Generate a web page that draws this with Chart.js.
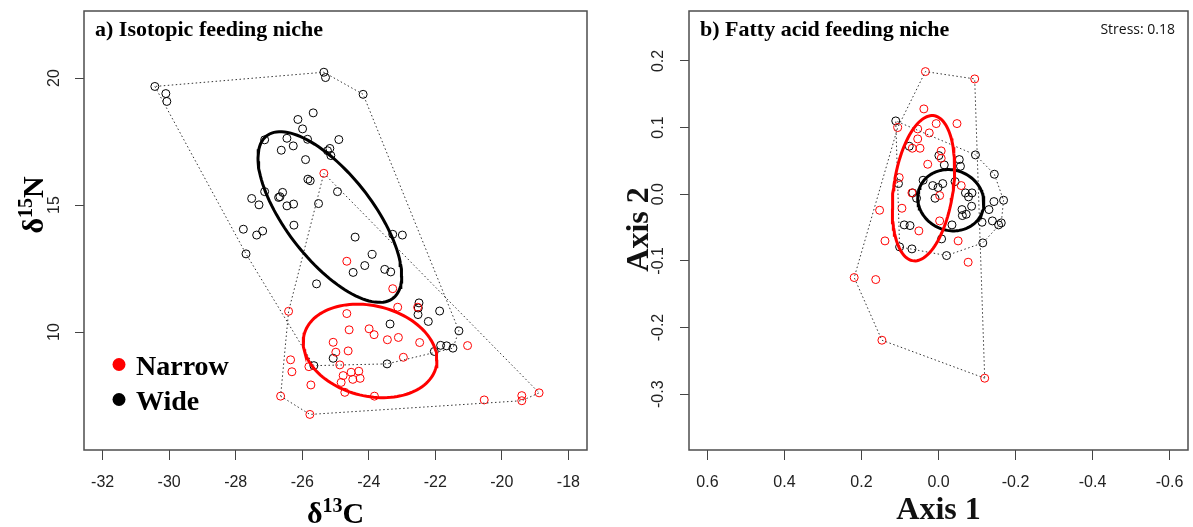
<!DOCTYPE html>
<html>
<head>
<meta charset="utf-8">
<script src="https://cdn.jsdelivr.net/npm/chart.js"></script>
<style>
	html, body { margin: 0; padding: 0; background: #fff; }
	#wrap { position: relative; width: 1193px; height: 527px; overflow: hidden; }
	canvas { position: absolute; top: 0; }
</style>
</head>
<body>
<div id="wrap">
	<canvas id="iso" width="596" height="527" style="left:0"></canvas>
	<canvas id="fa" width="597" height="527" style="left:596px"></canvas>
</div>
<script>
// ---- a) isotopes : d13C (x) / d15N (y) ----
const isoNarrowX = [-25.35, -24.66, -23.28, -26.41, -24.66, -23.13, -22.53, -24.59, -23.99, -23.84, -23.44, -23.11, -22.47, -21.03, -25.07, -24.99, -24.62, -26.35, -26.31, -25.80, -24.87, -22.96, -24.77, -24.53, -24.30, -24.48, -24.26, -24.83, -25.74, -24.72, -23.83, -26.65, -25.77, -20.53, -19.40, -19.40, -18.88];
const isoNarrowY = [16.25, 12.79, 11.71, 10.82, 10.73, 10.98, 10.98, 10.09, 10.13, 9.90, 9.70, 9.79, 9.59, 9.47, 9.60, 9.21, 9.26, 8.91, 8.44, 8.64, 8.71, 9.01, 8.29, 8.42, 8.46, 8.14, 8.18, 8.02, 7.92, 7.63, 7.48, 7.48, 6.76, 7.33, 7.50, 7.30, 7.61];
const isoWideX = [-30.43, -30.10, -30.07, -25.35, -25.30, -24.17, -25.67, -26.13, -25.99, -25.84, -24.90, -27.13, -26.46, -26.27, -26.63, -25.17, -25.24, -25.14, -25.90, -25.83, -25.76, -24.94, -27.13, -26.59, -26.67, -26.71, -27.52, -27.30, -26.46, -26.26, -25.51, -26.25, -27.77, -27.19, -27.37, -27.69, -24.41, -23.28, -22.99, -23.90, -24.12, -24.47, -23.52, -23.34, -25.57, -22.49, -22.51, -22.52, -21.87, -22.21, -23.36, -21.29, -25.07, -25.65, -23.45, -22.03, -21.84, -21.66, -21.47];
const isoWideY = [19.67, 19.39, 19.08, 20.23, 20.02, 19.36, 18.63, 18.37, 18.00, 17.59, 17.58, 17.57, 17.63, 17.33, 17.16, 17.23, 17.14, 16.95, 16.79, 16.02, 15.96, 15.53, 15.53, 15.50, 15.33, 15.30, 15.26, 15.01, 14.97, 15.04, 15.06, 14.21, 14.05, 13.98, 13.82, 13.08, 13.74, 13.85, 13.82, 13.06, 12.62, 12.35, 12.47, 12.37, 11.90, 11.15, 10.95, 10.69, 10.83, 10.42, 10.32, 10.05, 8.97, 8.68, 8.75, 9.24, 9.48, 9.46, 9.37];
// standard ellipses: [centre x, centre y, sd x, sd y, correlation]
const isoNarrowEllipse = [-23.96, 9.26, 2.01, 1.84, -0.19];
const isoWideEllipse = [-25.17, 14.53, 2.16, 3.36, -0.69];
const isoXTicks = [-32, -30, -28, -26, -24, -22, -20, -18];
const isoYTicks = [10, 15, 20];

// ---- b) fatty acids : NMDS ----
const faNarrowX = [0.034, -0.094, 0.038, -0.048, 0.006, 0.106, 0.054, 0.024, 0.054, 0.068, 0.048, -0.007, -0.007, 0.028, 0.102, -0.059, 0.069, -0.003, 0.095, 0.153, -0.003, 0.051, 0.139, -0.051, -0.077, 0.219, 0.163, 0.147, -0.120];
const faNarrowY = [0.184, 0.173, 0.128, 0.106, 0.106, 0.100, 0.098, 0.092, 0.083, 0.069, 0.069, 0.065, 0.054, 0.045, 0.025, 0.013, 0.002, -0.002, -0.021, -0.024, -0.040, -0.055, -0.070, -0.070, -0.102, -0.125, -0.128, -0.219, -0.276];
const faWideX = [0.111, 0.076, -0.001, -0.054, -0.096, -0.015, -0.057, -0.145, 0.040, 0.104, 0.015, -0.011, 0.001, -0.043, 0.067, -0.070, -0.087, 0.057, 0.009, -0.078, -0.169, -0.144, -0.086, -0.061, -0.131, -0.062, -0.072, -0.140, -0.113, -0.156, -0.163, 0.089, 0.074, -0.035, -0.008, -0.115, 0.101, 0.069, -0.021];
const faWideY = [0.110, 0.072, 0.058, 0.052, 0.059, 0.044, 0.042, 0.030, 0.021, 0.016, 0.013, 0.016, 0.010, 0.019, 0.002, 0.002, 0.002, -0.006, -0.006, -0.004, -0.009, -0.011, -0.018, -0.023, -0.023, -0.032, -0.030, -0.040, -0.042, -0.046, -0.043, -0.046, -0.047, -0.046, -0.067, -0.073, -0.079, -0.082, -0.092];
const faNarrowEllipse = [0.039, 0.009, 0.081, 0.109, -0.28];
const faWideEllipse = [-0.032, -0.009, 0.086, 0.046, 0.08];
const faXTicks = [0.6, 0.4, 0.2, 0, -0.2, -0.4, -0.6];
const faYTicks = [0.2, 0.1, 0, -0.1, -0.2, -0.3];

const legendLabels = ['Narrow', 'Wide'];
const legendColors = ['#ff0000', '#000000'];

const SERIF = "'Liberation Serif', 'Times New Roman', serif";
const SANS = "'Liberation Sans', Arial, sans-serif";
const RED = '#ff0000';
const BLACK = '#000000';

function toPoints(xs, ys) {
	return xs.map((x, i) => ({ x, y: ys[i] }));
}

// convex hull (monotone chain), closed ring
function convexHull(points) {
	const p = points.slice().sort((a, b) => a.x - b.x || a.y - b.y);
	const cross = (o, a, b) => (a.x - o.x) * (b.y - o.y) - (a.y - o.y) * (b.x - o.x);
	const lower = [];
	const upper = [];
	p.forEach((pt) => {
		while (lower.length >= 2 && cross(lower[lower.length - 2], lower[lower.length - 1], pt) <= 0) lower.pop();
		lower.push(pt);
	});
	for (let i = p.length - 1; i >= 0; i--) {
		while (upper.length >= 2 && cross(upper[upper.length - 2], upper[upper.length - 1], p[i]) <= 0) upper.pop();
		upper.push(p[i]);
	}
	upper.pop();
	lower.pop();
	const ring = lower.concat(upper);
	ring.push(ring[0]);
	return ring;
}

// outline of a standard ellipse
function ellipseRing([cx, cy, sx, sy, rho]) {
	const ring = [];
	const k = Math.sqrt(1 - rho * rho);
	for (let i = 0; i <= 120; i++) {
		const t = (i / 120) * Math.PI * 2;
		ring.push({ x: cx + sx * Math.cos(t), y: cy + sy * (rho * Math.cos(t) + k * Math.sin(t)) });
	}
	return ring;
}

// text with superscripts, centred on (x, y) baseline
function drawRich(ctx, parts, x, y, rotate) {
	ctx.save();
	ctx.translate(x, y);
	if (rotate) ctx.rotate(-Math.PI / 2);
	ctx.textAlign = 'left';
	ctx.textBaseline = 'alphabetic';
	let total = 0;
	parts.forEach((p) => {
		ctx.font = p.font;
		p.w = ctx.measureText(p.text).width;
		total += p.w;
	});
	let cx = -total / 2;
	parts.forEach((p) => {
		ctx.font = p.font;
		ctx.fillText(p.text, cx, -(p.rise || 0));
		cx += p.w;
	});
	ctx.restore();
}

function makePanel(id, p) {
	const narrow = toPoints(p.narrowX, p.narrowY);
	const wide = toPoints(p.wideX, p.wideY);

	const pointSet = (data, color) => ({
		data, showLine: false, order: 3,
		pointStyle: 'circle', pointRadius: 4, pointBorderWidth: 1,
		pointBorderColor: color, pointBackgroundColor: 'rgba(0,0,0,0)',
	});
	const hullSet = (data) => ({
		data: convexHull(data), showLine: true, order: 2, pointRadius: 0,
		borderColor: '#333', borderWidth: 1, borderDash: [1.5, 2.5], fill: false, tension: 0,
	});
	const ellipseSet = (e, color) => ({
		data: ellipseRing(e), showLine: true, order: 1, pointRadius: 0,
		borderColor: color, borderWidth: 3, fill: false, tension: 0,
	});

	const tickFont = { family: SANS, size: 16 };

	const frame = {
		id: 'frame',
		afterDraw(chart) {
			const { ctx, chartArea: a } = chart;
			ctx.save();
			ctx.strokeStyle = '#4d4d4d';
			ctx.lineWidth = 1.5;
			ctx.strokeRect(a.left, a.top, a.right - a.left, a.bottom - a.top);

			ctx.fillStyle = '#000';
			ctx.textBaseline = 'alphabetic';
			ctx.textAlign = 'left';
			ctx.font = 'bold 22px ' + SERIF;
			ctx.fillText(p.title, a.left + 11, 36);

			if (p.stress) {
				ctx.font = '14px "Open Sans", ' + SANS;
				ctx.textAlign = 'right';
				ctx.fillStyle = '#111';
				ctx.fillText(p.stress, a.right - 13, 34);
			}

			const cxMid = (a.left + a.right) / 2;
			drawRich(ctx, p.xTitle, cxMid, p.xTitleBase, false);
			drawRich(ctx, p.yTitle, p.yTitleBase, p.yTitleMid, true);

			if (p.legend) {
				legendLabels.forEach((label, i) => {
					const y = a.bottom - 85.5 + i * 35;
					ctx.fillStyle = legendColors[i];
					ctx.beginPath();
					ctx.arc(a.left + 35, y, 6.5, 0, Math.PI * 2);
					ctx.fill();
					ctx.fillStyle = '#000';
					ctx.textAlign = 'left';
					ctx.font = 'bold 28px ' + SERIF;
					ctx.fillText(label, a.left + 52, y + 10);
				});
			}
			ctx.restore();
		},
	};

	return new Chart(document.getElementById(id), {
		type: 'scatter',
		data: {
			datasets: [
				pointSet(narrow, RED),
				pointSet(wide, BLACK),
				hullSet(narrow),
				hullSet(wide),
				ellipseSet(p.narrowEllipse, RED),
				ellipseSet(p.wideEllipse, BLACK),
			],
		},
		options: {
			responsive: false,
			animation: false,
			devicePixelRatio: 1,
			events: [],
			layout: { padding: { top: 11, right: p.padRight, bottom: 0, left: 0 } },
			plugins: { legend: { display: false }, tooltip: { enabled: false } },
			scales: {
				x: {
					type: 'linear',
					min: p.xMin,
					max: p.xMax,
					reverse: !!p.xReverse,
					afterBuildTicks: (s) => { s.ticks = p.xTicks.map((v) => ({ value: v })); },
					afterFit: (s) => { s.height = 77; s.paddingLeft = 0; s.paddingRight = 0; },
					grid: { drawOnChartArea: false, tickLength: 10, color: '#444', lineWidth: 1 },
					border: { display: false },
					ticks: { autoSkip: false, maxRotation: 0, padding: 13, color: '#222', font: tickFont, callback: p.fmt },
				},
				y: {
					type: 'linear',
					min: p.yMin,
					max: p.yMax,
					afterBuildTicks: (s) => { s.ticks = p.yTicks.map((v) => ({ value: v })); },
					afterFit: (s) => { s.width = p.yAxisWidth; s.paddingTop = 0; s.paddingBottom = 0; },
					grid: { drawOnChartArea: false, tickLength: 9, color: '#444', lineWidth: 1 },
					border: { display: false },
					ticks: {
						autoSkip: false, minRotation: 90, maxRotation: 90, crossAlign: 'center',
						padding: p.yPad, color: '#222', font: tickFont, callback: p.fmt,
					},
				},
			},
		},
		plugins: [frame],
	});
}

makePanel('iso', {
	narrowX: isoNarrowX, narrowY: isoNarrowY, wideX: isoWideX, wideY: isoWideY,
	narrowEllipse: isoNarrowEllipse, wideEllipse: isoWideEllipse,
	xTicks: isoXTicks, yTicks: isoYTicks,
	xMin: -32.56, xMax: -17.44, yMin: 5.36, yMax: 22.64,
	yAxisWidth: 84, padRight: 9, yPad: 12,
	fmt: (v) => String(v),
	title: 'a) Isotopic feeding niche',
	legend: true,
	xTitle: [
		{ text: 'δ', font: 'bold 30px ' + SERIF },
		{ text: '13', font: 'bold 20px ' + SERIF, rise: 11 },
		{ text: 'C', font: 'bold 30px ' + SERIF },
	],
	xTitleBase: 523,
	yTitle: [
		{ text: 'δ', font: 'bold 30px ' + SERIF },
		{ text: '15', font: 'bold 20px ' + SERIF, rise: 11 },
		{ text: 'N', font: 'bold 30px ' + SERIF },
	],
	yTitleBase: 43,
	yTitleMid: 205,
});

makePanel('fa', {
	narrowX: faNarrowX, narrowY: faNarrowY, wideX: faWideX, wideY: faWideY,
	narrowEllipse: faNarrowEllipse, wideEllipse: faWideEllipse,
	xTicks: faXTicks, yTicks: faYTicks,
	xMin: -0.648, xMax: 0.648, xReverse: true, yMin: -0.3837, yMax: 0.2749,
	yAxisWidth: 93, padRight: 1, yPad: 7.6,
	fmt: (v) => v.toFixed(1),
	title: 'b) Fatty acid feeding niche',
	stress: 'Stress: 0.18',
	legend: false,
	xTitle: [{ text: 'Axis 1', font: 'bold 32px ' + SERIF }],
	xTitleBase: 519,
	yTitle: [{ text: 'Axis 2', font: 'bold 32px ' + SERIF }],
	yTitleBase: 52,
	yTitleMid: 229.5,
});
</script>
</body>
</html>
